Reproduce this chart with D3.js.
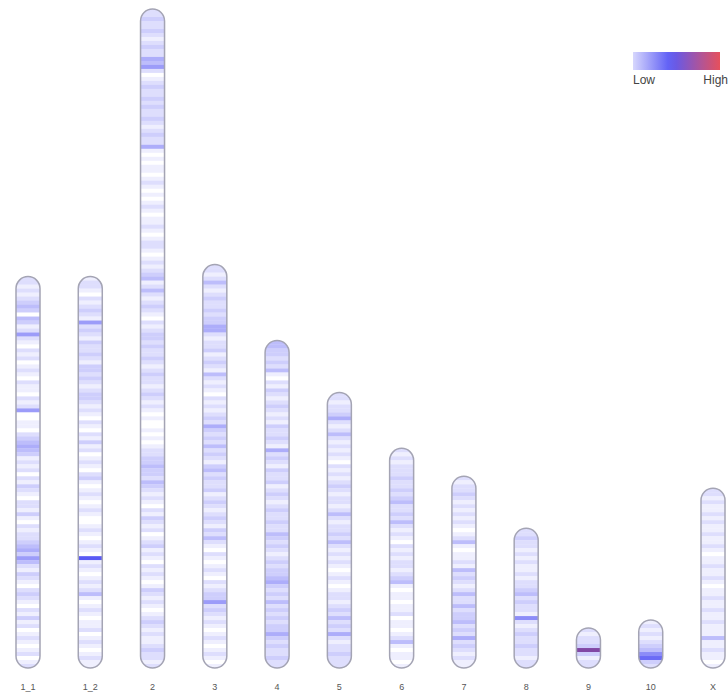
<!DOCTYPE html>
<html><head><meta charset="utf-8">
<script src="https://cdn.jsdelivr.net/npm/d3@7/dist/d3.min.js"></script>
<style>body{margin:0;background:#fff}svg{display:block}</style>
</head><body>
<svg id="chart" width="728" height="695"></svg>
<script>
// ---- data ----
const chromosomes = ["1_1","1_2","2","3","4","5","6","7","8","9","10","X"];
const lengths = [98, 98, 165, 101, 82, 69, 55, 48, 35, 10, 12, 45];
const dens_1_1 = [2,2,1,2, 1,2,3,4,3,0,4,3,1,2, 6, 2,1,0,2,1,2,0,1,2,1,0,2,1,1,0,2,1,2, 6, 0,0,1,1,0,2,3, 4,5,4,3, 1,2,1,2,0,2,1,3,2,1,0,2,2,1,3,1,0,2,1,2,2,3, 4,5,3,6,4, 2,1,3,2,1,0,2,3,2,1,0,2,1,3,1,2,0,1,2,1,0,1,2,0,1,2];
const dens_1_2 = [1,2,2,1,0,2,1,2,3,2,1, 6, 2,3,2,1,3,2,2,3,2,1, 3,3,2,3,2,1, 2,3,3,2,1,2,1,0, 2,1,0,2,1,3,1,2,0,1,2,1,0,2,3,1,0,1,2,1,0,1,2,1,0,0,1,2,1,0,1,2,1,0, 10, 1,2,1,0,1,2,1,2, 4, 1,0,1,2,1,0,1,1,2,0,1,2,1,0,1,2,1,1];
const dens_2 = [2,2,3,2,2,3,2,1,2,3,2,2, 5,4,6, 2,0,1,2,3,2,2,3,2,3,2,2,3,2,1,2,3,2,2, 5, 1,0,1,0,1,1,0,1,2,1,0,1,0,1,2,1,0,1,1,2,1,0,1,2,2,1,0,1,2,1,2,3, 4, 1,2, 4, 2,1,2,3,2,1,0,2,1,2, 3,3,2,3,2,2,3,2,1,2,3,2,2,1,2,3,2,1,2,1, 0,1,0,0,1,0,1,0,1,2, 2,3,3,4,3,3,2,4,3,2, 1,2,1,0,2,1,3,2,1,2,0,1,2,3,1,2,1,0,2,1,2,1,0,1,3,2,1,2,1,0,1,2,3,2,1,2,1,1,2,3,2,2,1,2];
const dens_3 = [2,2,1,2, 4, 2,1,2,3,2,2,3,2,3,3, 5,5, 2,1,2,2,3,1,2,3,2,1, 4, 2,1,2,1,0,2,1,2,1,2,3,2, 5, 3,2,3,2, 4, 2,3,2,1,3, 4, 2,3,2,2,3,1,2,3,2,1,2,3,2,1,3,2, 4, 2,1,0,2,1,0,1,2,1,0,2,1,2,3,3, 6, 2,3,2,1,2,1,0,1,2,1,0,1,2,1,0,1];
const dens_4 = [4,4,3,3,2,3,2, 4, 1,0,2,1,3,2,1,2,3,2,1,2,1,3,2,2,3,2,1, 5, 2,3,2,1,3,2,2,3,1,2,3,2,1,2,3,2,2,3,2,2, 4, 3,2,3,2,1,2,3,2,3,3,4, 5, 3,2,3,2,4,2,3,2,3,2,3,3, 5, 3,2,3,2,2,3,2,2];
const dens_5 = [2,2,1,2,2,3, 5, 2,1,2, 4, 2,1,2,1,2,1,0,2,1,2,1,2, 3, 2,1,2,2,1,2, 4, 2,1,2,2,3,2, 4, 2,1,2,1,2,1,0,1,2,1,0,1,2,2,1,2,3,2, 4, 2,3,2, 5, 2,1,2,2,3,2,2,2];
const dens_6 = [2,1,2,1,2,2,2, 3, 2,2,3,2,3, 4, 2,2,3,2, 4, 2,1,2,1,0,2,1,2,1,2,2,1,2,3, 4, 1,0,1,1,0,1,1,2,0,1,1,0,1,2, 4, 1,0,1,1,0,1];
const dens_7 = [2,1,2,2,3,2,1,2,1,2,1,2,1,0,1,2, 4, 1,0,1,1,2,1, 4, 2,3,2,1,2, 4, 2,2, 4, 2,3,3, 4, 2,3,2, 5, 2,3,2,1,2,1,1];
const dens_8 = [2,2,3,2,2,1,2,1,2,1,1,2,1,2,2,3, 4, 2,3,2,2,1, 7, 2,1,2,3,2,2,3,2,2,1,2,2];
const dens_9 = [2,1,2,2,3,14,3,1,2,2];
const dens_10 = [1,2,1,2,1,2,3,4,7,9,3,2];
const dens_X = [2,2,1,2,1,1,2,1,2,1,1,2,1,1,2,1,0,1,1,2,1,1,2,1,0,1,1,2,1,1,2,1,1,2,1,1,1,4,1,1,2,1,1,0,1];
const densities = [dens_1_1, dens_1_2, dens_2, dens_3, dens_4, dens_5, dens_6, dens_7, dens_8, dens_9, dens_10, dens_X];
const densityMax = 20;
const legendLabels = ["Low", "High"];

// ---- drawing ----
const svg = d3.select("#chart");
const bottom = 668, chrW = 24;
const x = d3.scalePoint().domain(chromosomes).range([28, 713]);
const h = d3.scaleLinear().domain([0, d3.max(lengths)]).range([0, 659]);
const color = d3.scaleLinear().domain([0, 0.5, 1]).range(["#ffffff", "#5a5af5", "#e6505c"]);
const bandColor = d => d3.interpolateRgb(color(d), "#3a0a50")(Math.max(0, d - 0.55) * 1.2);

const defs = svg.append("defs");
chromosomes.forEach((name, i) => {
  const len = lengths[i], vals = densities[i];
  const top = bottom - h(len);
  const cx = x(name), x0 = cx - chrW / 2;
  const id = "clip" + i;
  defs.append("clipPath").attr("id", id).append("rect")
    .attr("x", x0).attr("y", top).attr("width", chrW).attr("height", h(len))
    .attr("rx", chrW / 2).attr("ry", chrW / 2);
  const g = svg.append("g");
  g.append("rect").attr("x", x0).attr("y", top).attr("width", chrW).attr("height", h(len))
    .attr("rx", chrW / 2).attr("fill", "#fff");
  const binLen = len / vals.length;
  g.append("g").attr("clip-path", `url(#${id})`).selectAll("rect").data(vals).join("rect")
    .attr("x", x0).attr("width", chrW)
    .attr("y", (d, j) => top + h(j * binLen))
    .attr("height", h(binLen) + 0.3)
    .attr("fill", d => bandColor(d / densityMax));
  g.append("rect").attr("x", x0).attr("y", top).attr("width", chrW).attr("height", h(len))
    .attr("rx", chrW / 2).attr("fill", "none").attr("stroke", "#a4a4b4").attr("stroke-width", 1.5);
  svg.append("text").attr("x", cx).attr("y", 690).attr("text-anchor", "middle")
    .attr("font-family", "Liberation Sans, Arial, sans-serif").attr("font-size", 9)
    .attr("fill", "#555").text(name);
});

// legend
const grad = defs.append("linearGradient").attr("id", "lg");
d3.range(0, 1.01, 0.1).forEach(t => grad.append("stop").attr("offset", t).attr("stop-color", color(0.12 + t * 0.88)));
svg.append("rect").attr("x", 633).attr("y", 52).attr("width", 87).attr("height", 18).attr("fill", "url(#lg)");
svg.append("text").attr("x", 633).attr("y", 84).attr("font-family", "Liberation Sans, Arial, sans-serif")
  .attr("font-size", 12).attr("fill", "#444").text(legendLabels[0]);
svg.append("text").attr("x", 728).attr("y", 84).attr("text-anchor", "end").attr("font-family", "Liberation Sans, Arial, sans-serif")
  .attr("font-size", 12).attr("fill", "#444").text(legendLabels[1]);
</script>
</body></html>
